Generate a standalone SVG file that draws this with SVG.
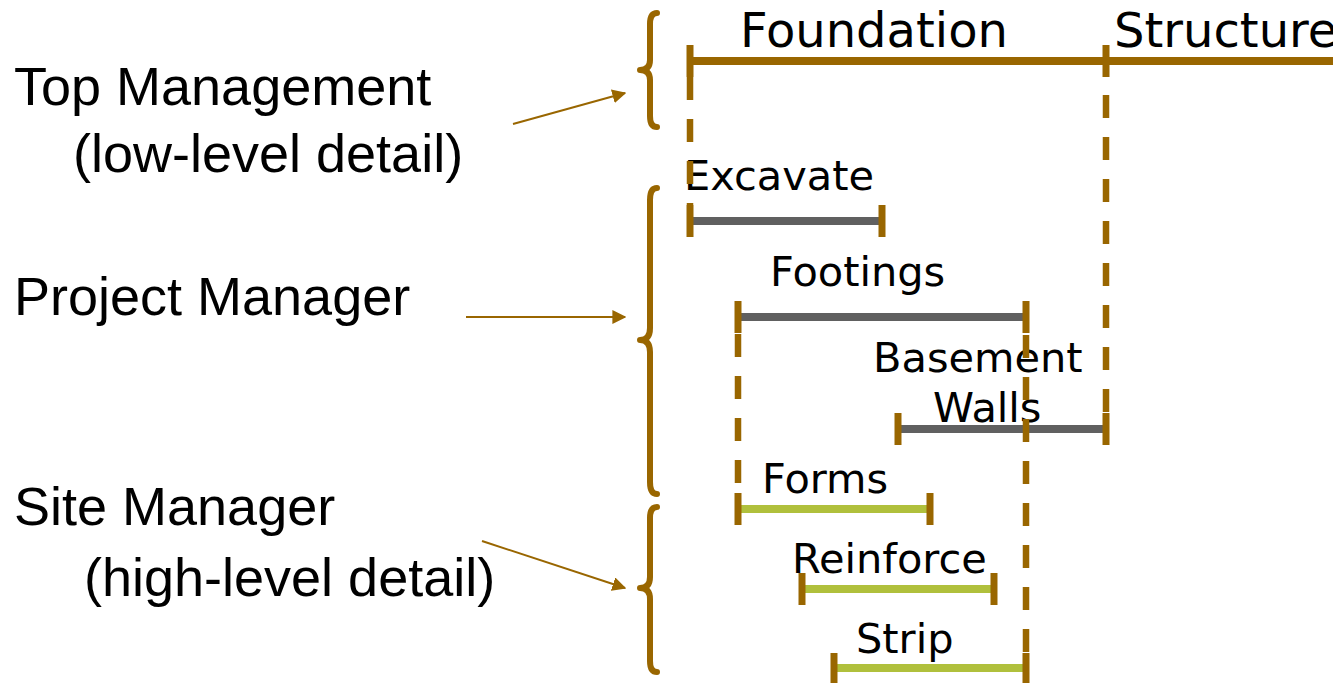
<svg xmlns="http://www.w3.org/2000/svg" width="1333" height="683" viewBox="0 0 1333 683">
  <defs>
    <marker id="arrow" viewBox="0 0 10 10" refX="9" refY="5" markerWidth="7" markerHeight="7" markerUnits="strokeWidth" orient="auto">
      <path d="M0,0 L10,5 L0,10 Z" fill="#996600"/>
    </marker>
  </defs>
  <style>
    .role { font-family: "Liberation Sans", Arial, sans-serif; font-size: 54px; fill: #000; }
    .task { font-family: "DejaVu Sans", Verdana, sans-serif; font-size: 41.5px; fill: #000; }
    .phase { font-family: "DejaVu Sans", Verdana, sans-serif; font-size: 48px; fill: #000; }
    .brace { fill: none; stroke: #996600; stroke-width: 6; stroke-linecap: round; stroke-linejoin: round; }
    .pointer { fill: none; stroke: #996600; stroke-width: 2; marker-end: url(#arrow); }
    .bar-phase { stroke: #996600; stroke-width: 8; }
    .bar-pm { stroke: #606060; stroke-width: 8; }
    .bar-site { stroke: #B0C03C; stroke-width: 8; }
    .tick { stroke: #996600; stroke-width: 7; }
    .link { stroke: #996600; stroke-width: 6.5; stroke-dasharray: 23 19; }
  </style>

  <!-- management levels -->
  <g id="top-management">
    <text class="role" x="14" y="105">Top Management</text>
    <text class="role" x="73" y="172">(low-level detail)</text>
    <path class="brace" d="M657 13 Q650 13 650 24 L650 60 Q650 70 640 70 Q650 70 650 80 L650 116 Q650 127 657 127"/>
  </g>
  <g id="project-manager">
    <text class="role" x="14" y="315">Project Manager</text>
    <path class="brace" d="M657 188 Q650 188 650 200 L650 328 Q650 340 640 340 Q650 340 650 352 L650 482 Q650 494 657 494"/>
  </g>
  <g id="site-manager">
    <text class="role" x="14" y="525">Site Manager</text>
    <text class="role" x="84" y="596">(high-level detail)</text>
    <path class="brace" d="M657 507 Q650 507 650 518 L650 577 Q650 588 640 588 Q650 588 650 599 L650 661 Q650 672 657 672"/>
  </g>

  <!-- schedule bars -->
  <g id="foundation">
    <text class="phase" x="740" y="47">Foundation</text>
    <line class="bar-phase" x1="690" y1="61" x2="1333" y2="61"/>
    <line class="tick" x1="690" y1="45" x2="690" y2="77"/>
  </g>
  <g id="structure">
    <text class="phase" x="1114" y="47">Structure</text>
    <line class="tick" x1="1106" y1="45" x2="1106" y2="77"/>
  </g>
  <g id="excavate">
    <text class="task" x="684" y="190">Excavate</text>
    <line class="bar-pm" x1="690" y1="221" x2="882" y2="221"/>
    <line class="tick" x1="690" y1="205" x2="690" y2="237"/>
    <line class="tick" x1="882" y1="205" x2="882" y2="237"/>
  </g>
  <g id="footings">
    <text class="task" x="770" y="286">Footings</text>
    <line class="bar-pm" x1="738" y1="317" x2="1026" y2="317"/>
    <line class="tick" x1="738" y1="301" x2="738" y2="333"/>
    <line class="tick" x1="1026" y1="301" x2="1026" y2="333"/>
  </g>
  <g id="basement-walls">
    <text class="task" x="873" y="372">Basement</text>
    <text class="task" x="933" y="422">Walls</text>
    <line class="bar-pm" x1="898" y1="429" x2="1106" y2="429"/>
    <line class="tick" x1="898" y1="413" x2="898" y2="445"/>
    <line class="tick" x1="1106" y1="413" x2="1106" y2="445"/>
  </g>
  <g id="forms">
    <text class="task" x="762" y="493">Forms</text>
    <line class="bar-site" x1="738" y1="509" x2="930" y2="509"/>
    <line class="tick" x1="738" y1="493" x2="738" y2="525"/>
    <line class="tick" x1="930" y1="493" x2="930" y2="525"/>
  </g>
  <g id="reinforce">
    <text class="task" x="792" y="573">Reinforce</text>
    <line class="bar-site" x1="802" y1="589" x2="994" y2="589"/>
    <line class="tick" x1="802" y1="573" x2="802" y2="605"/>
    <line class="tick" x1="994" y1="573" x2="994" y2="605"/>
  </g>
  <g id="strip">
    <text class="task" x="856" y="653">Strip</text>
    <line class="bar-site" x1="834" y1="668" x2="1026" y2="668"/>
    <line class="tick" x1="834" y1="653" x2="834" y2="683"/>
    <line class="tick" x1="1026" y1="653" x2="1026" y2="683"/>
  </g>

  <!-- connectors: pointers and dependency links -->
  <g id="connectors">
    <line class="pointer" x1="513" y1="124" x2="625" y2="93"/>
    <line class="pointer" x1="466" y1="317" x2="625" y2="317"/>
    <line class="pointer" x1="482" y1="541" x2="625" y2="588"/>
    <line class="link" x1="690" y1="77" x2="690" y2="205"/>
    <line class="link" x1="1106" y1="95" x2="1106" y2="413"/>
    <line class="link" x1="738" y1="334" x2="738" y2="493"/>
    <line class="link" x1="1026" y1="335" x2="1026" y2="653"/>
  </g>
</svg>
